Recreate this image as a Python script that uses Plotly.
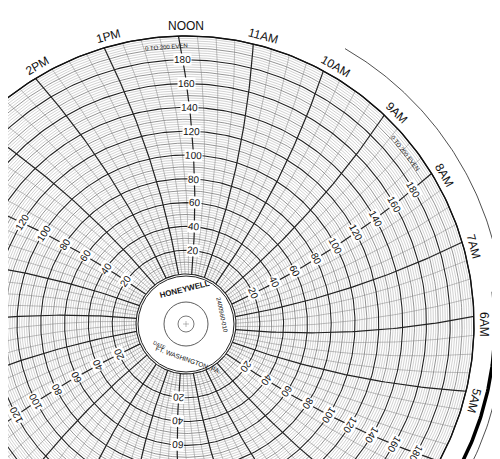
import numpy as np
import plotly.graph_objects as go

# ---- data ----
ring_values = list(range(0, 201, 2))          # chart scale 0..200
label_values = [20, 40, 60, 80, 100, 120, 140, 160, 180]
hour_labels = ["NOON", "11AM", "10AM", "9AM", "8AM", "7AM", "6AM", "5AM", "4AM", "3AM", "2AM", "1AM",
               "MIDNIGHT", "11PM", "10PM", "9PM", "8PM", "7PM", "6PM", "5PM", "4PM", "3PM", "2PM", "1PM"]
scale_label_hours = [0, 4, 8, 12, 16, 20]      # hour indices carrying the 20..180 labels

cx, cy = 178.0, 316.0
R0, K = 50.0, 1.19
L = 850.0
def rad(v): return R0 + v * K
ROUT = rad(200)
def offs(r): return np.arccos(r / (2 * L)) - np.arccos(ROUT / (2 * L)) - np.radians(1.5)
def pt(theta_deg, r):
    a = np.radians(theta_deg) + offs(r)
    return cx + r * np.sin(a), cy - r * np.cos(a)

fig = go.Figure()
def add(xs, ys, color, width):
    fig.add_trace(go.Scatter(x=xs, y=ys, mode="lines", line=dict(color=color, width=width),
                             hoverinfo="skip", showlegend=False))

t = np.linspace(0, 2 * np.pi, 400)
groups = {"minor": ([], []), "mid": ([], []), "major": ([], [])}
for v in ring_values:
    g = "major" if v % 20 == 0 else ("mid" if v % 10 == 0 else "minor")
    r = rad(v)
    groups[g][0].extend(list(cx + r * np.sin(t)) + [None])
    groups[g][1].extend(list(cy - r * np.cos(t)) + [None])
add(*groups["minor"], "#9a9a9a", 0.45)
add(*groups["mid"], "#666666", 0.7)

rs = np.linspace(R0, ROUT, 60)
tx, ty, hx, hy = [], [], [], []
for k in range(96):
    th = k * 3.75
    x, y = pt(th, rs)
    if k % 4 == 0:
        hx.extend(list(x) + [None]); hy.extend(list(y) + [None])
    else:
        tx.extend(list(x) + [None]); ty.extend(list(y) + [None])
add(tx, ty, "#808080", 0.5)
add(*groups["major"], "#222222", 1.1)
add(hx, hy, "#222222", 1.2)
add(list(cx + ROUT * np.sin(t)), list(cy - ROUT * np.cos(t)), "#111111", 1.4)

def arc(r, a0, a1, color, w):
    aa = np.radians(np.linspace(a0, a1, 80))
    add(list(cx + r * np.sin(aa)), list(cy - r * np.cos(aa)), color, w)
arc(318, 30, 78, "#222222", 0.8)
arc(318, 84, 150, "#222222", 0.8)
arc(309, 84, 125, "#000000", 3.5)

anns = []
for i, h in enumerate(hour_labels):
    th = i * 15
    x, y = cx + 298 * np.sin(np.radians(th)), cy - 298 * np.cos(np.radians(th))
    anns.append(dict(x=x, y=y, text=h, showarrow=False, textangle=th if th <= 180 else th - 360,
                     font=dict(size=12, color="#111", family="Liberation Sans")))
for hi in scale_label_hours:
    th = hi * 15
    for v in label_values:
        r = rad(v)
        x, y = pt(th, r)
        ang = np.degrees(np.radians(th) + offs(r))
        anns.append(dict(x=x, y=y, text=str(v), showarrow=False, bgcolor="white",
                         borderpad=0, textangle=ang if ang <= 180 else ang - 360,
                         font=dict(size=10, color="#111", family="Liberation Sans")))
for th in [-4, 52]:
    x, y = cx + 278 * np.sin(np.radians(th)), cy - 278 * np.cos(np.radians(th))
    anns.append(dict(x=x, y=y, text="0 TO 200 EVEN", showarrow=False, textangle=th,
                     font=dict(size=6, color="#111", family="Liberation Sans")))
anns += [
    dict(x=176, y=281, text="<b>HONEYWELL</b>", showarrow=False, textangle=-14,
         font=dict(size=8, color="#111", family="Liberation Sans")),
    dict(x=214, y=307, text="2400960-010", showarrow=False, textangle=78,
         font=dict(size=6, color="#111", family="Liberation Sans")),
    dict(x=180, y=351, text="FT. WASHINGTON, PA.", showarrow=False, textangle=20,
         font=dict(size=6.5, color="#111", family="Liberation Sans")),
    dict(x=152, y=337, text="DATE", showarrow=False, textangle=25,
         font=dict(size=5, color="#111", family="Liberation Sans")),
]

shapes = [
    dict(type="circle", x0=cx - 48, x1=cx + 48, y0=cy - 48, y1=cy + 48, fillcolor="white",
         line=dict(color="#222", width=1), layer="above"),
    dict(type="circle", x0=cx - 22, x1=cx + 22, y0=cy - 22, y1=cy + 22,
         line=dict(color="#333", width=0.8), layer="above"),
    dict(type="circle", x0=cx - 8, x1=cx + 8, y0=cy - 8, y1=cy + 8,
         line=dict(color="#555", width=0.8), layer="above"),
    dict(type="line", x0=cx - 3, x1=cx + 3, y0=cy, y1=cy, line=dict(color="#777", width=0.5), layer="above"),
    dict(type="line", x0=cx, x1=cx, y0=cy - 3, y1=cy + 3, line=dict(color="#777", width=0.5), layer="above"),
]

fig.update_layout(width=500, height=459, margin=dict(l=0, r=0, t=0, b=0),
                  plot_bgcolor="white", paper_bgcolor="white", annotations=anns, shapes=shapes,
                  xaxis=dict(range=[0, 500], visible=False, fixedrange=True),
                  yaxis=dict(range=[459, 0], visible=False, fixedrange=True))
fig.write_html("out.html")
